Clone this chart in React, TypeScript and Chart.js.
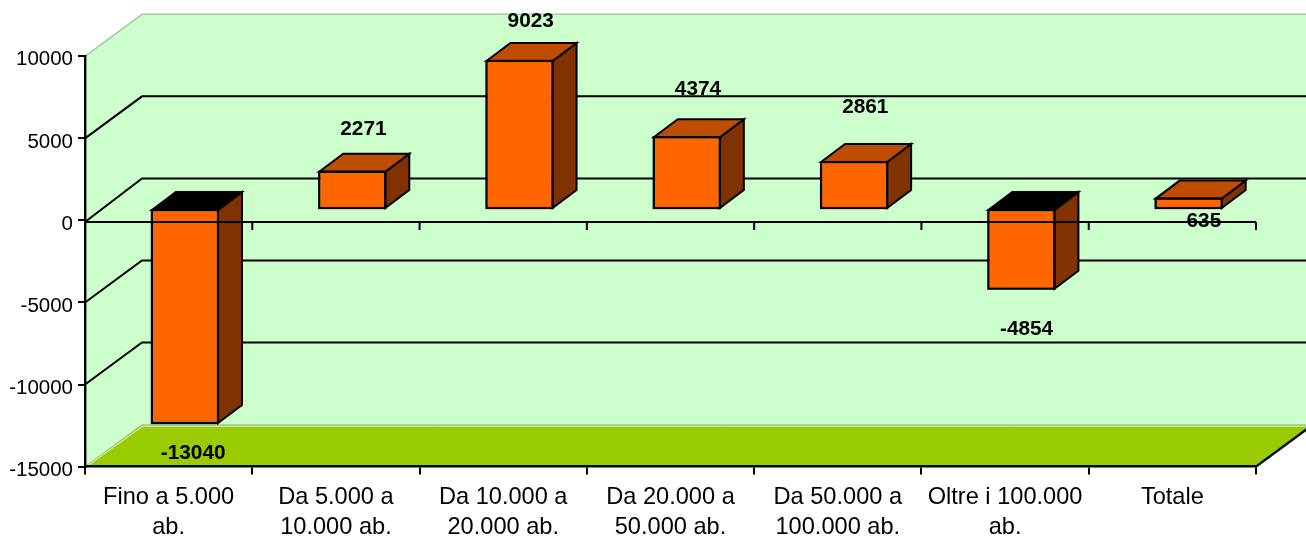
import React, { useEffect, useRef } from "react";
import { Chart, registerables } from "chart.js";

Chart.register(...registerables);

const categories = [
  ["Fino a 5.000", "ab."],
  ["Da 5.000 a", "10.000 ab."],
  ["Da 10.000 a", "20.000 ab."],
  ["Da 20.000 a", "50.000 ab."],
  ["Da 50.000 a", "100.000 ab."],
  ["Oltre i 100.000", "ab."],
  ["Totale"],
];
const saldo = [-13040, 2271, 9023, 4374, 2861, -4854, 635];
const yMin = -15000;
const yMax = 10000;
const yStep = 5000;

// label placement relative to each bar's front face (px)
const labelNudgeX = [8, 11, 11, 11, 11, 5, 15];
const labelNudgeY = [29, -43, -41, -49, -56, 40, 22];

const FONT = '"Liberation Sans", Arial, sans-serif';
const WALL = "#CCFFCC";
const FLOOR = "#99CC00";
const FRONT = "#FF6600";
const SIDE = "#803300";
const TOP = "#BF4D00";
const EDGE = "#9DD09D";

// 3D projection offsets
const WALL_DX = 57;
const WALL_DY = -42;
const BAR_DX = 16.3;
const BAR_DY = -11.4;
const BAR_DEPTH_X = 24;
const BAR_DEPTH_Y = -18;
const ZERO_SHIFT = 1.5;
const Y_LABEL_SHIFT = 3.5;
const LINE = 2;

function poly(ctx: CanvasRenderingContext2D, pts: number[][], fill?: string, stroke?: string, lw = LINE) {
  ctx.beginPath();
  pts.forEach((p, i) => (i ? ctx.lineTo(p[0], p[1]) : ctx.moveTo(p[0], p[1])));
  if (fill) {
    ctx.closePath();
    ctx.fillStyle = fill;
    ctx.fill();
  }
  if (stroke) {
    ctx.strokeStyle = stroke;
    ctx.lineWidth = lw;
    ctx.lineJoin = "miter";
    ctx.stroke();
  }
}

const box3d = {
  id: "box3d",
  afterLayout(chart: any) {
    const y = chart.scales.y;
    if (y.__shifted) return;
    y.__shifted = true;
    const orig = y.getLabelItems;
    y.getLabelItems = function (area: any) {
      return orig.call(y, area).map((item: any) => ({
        ...item,
        options: {
          ...item.options,
          translation: [item.options.translation[0], item.options.translation[1] + Y_LABEL_SHIFT],
        },
      }));
    };
  },
  beforeDraw(chart: any) {
    const { ctx, chartArea: a, scales } = chart;
    const y = scales.y;
    const L = a.left, R = a.right, T = a.top, B = a.bottom;
    const bx = L + WALL_DX, rx = R + WALL_DX;
    ctx.save();
    poly(ctx, [[L, B], [L, T], [bx, T + WALL_DY], [rx, T + WALL_DY], [rx, B + WALL_DY], [bx, B + WALL_DY]], WALL);
    poly(ctx, [[L, B], [bx, B + WALL_DY], [rx, B + WALL_DY], [R, B]], FLOOR);
    // pale edges of the walls
    poly(ctx, [[L, T], [bx, T + WALL_DY], [rx, T + WALL_DY]], undefined, EDGE, 1.5);
    poly(ctx, [[L, B], [bx, B + WALL_DY], [rx, B + WALL_DY]], undefined, EDGE, 1);
    poly(ctx, [[L + 1.5, B], [bx + 1, B + WALL_DY + 1.5], [rx, B + WALL_DY + 1.5]], undefined, "#E4F5D8", 1);
    // gridlines on side and back wall
    for (let v = yMin + yStep; v < yMax; v += yStep) {
      const shift = v === 0 ? ZERO_SHIFT : 0;
      const py = y.getPixelForValue(v);
      poly(ctx, [[L, py + shift], [bx, py + WALL_DY], [rx, py + WALL_DY]], undefined, "#000", LINE);
    }
    // right floor edge
    poly(ctx, [[R, B], [rx, B + WALL_DY]], undefined, "#000", LINE + 0.4);
    ctx.restore();
  },
  beforeDatasetDraw(chart: any) {
    const { ctx } = chart;
    const bars = chart.getDatasetMeta(0).data;
    ctx.save();
    ctx.translate(BAR_DX, BAR_DY);
    bars.forEach((b: any, i: number) => {
      const hw = b.width / 2;
      const x0 = b.x - hw, x1 = b.x + hw;
      const top = Math.min(b.y, b.base), bot = Math.max(b.y, b.base);
      const dx = BAR_DEPTH_X, dy = BAR_DEPTH_Y;
      poly(ctx, [[x1, top], [x1 + dx, top + dy], [x1 + dx, bot + dy], [x1, bot]], SIDE, "#000", LINE);
      poly(ctx, [[x0, top], [x0 + dx, top + dy], [x1 + dx, top + dy], [x1, top]], saldo[i] < 0 ? "#000" : TOP, "#000", LINE);
    });
  },
  afterDatasetDraw(chart: any) {
    const { ctx } = chart;
    chart.getDatasetMeta(0).data.forEach((b: any) => {
      const hw = b.width / 2;
      const top = Math.min(b.y, b.base), bot = Math.max(b.y, b.base);
      ctx.strokeStyle = "#000";
      ctx.lineWidth = LINE + 0.2;
      ctx.strokeRect(b.x - hw, top, b.width, bot - top);
    });
    ctx.restore();
  },
  afterDatasetsDraw(chart: any) {
    const { ctx, chartArea: a, scales } = chart;
    const zero = scales.y.getPixelForValue(0) + ZERO_SHIFT;
    ctx.save();
    poly(ctx, [[a.left, zero], [a.right, zero]], undefined, "#000", LINE);
    scales.x.ticks.forEach((_: any, i: number) => {
      const px = scales.x.getPixelForTick(i) + scales.x.width / categories.length / 2;
      poly(ctx, [[px, zero], [px, zero + 8]], undefined, "#000", LINE);
    });
    ctx.fillStyle = "#000";
    ctx.font = `bold 20.8px ${FONT}`;
    ctx.textAlign = "center";
    ctx.textBaseline = "middle";
    chart.getDatasetMeta(0).data.forEach((b: any, i: number) => {
      ctx.fillText(String(saldo[i]), b.x + 16.5 + labelNudgeX[i], b.y + BAR_DY + labelNudgeY[i] + 1);
    });
    ctx.restore();
  },
};

export default function App() {
  const ref = useRef<HTMLCanvasElement>(null);
  useEffect(() => {
    document.body.style.margin = "0";
    const chart = new Chart(ref.current!, {
      type: "bar",
      data: {
        labels: categories as any,
        datasets: [
          {
            data: saldo,
            backgroundColor: FRONT,
            borderColor: "#000",
            borderWidth: 1,
            borderSkipped: false,
            barPercentage: 0.395,
            categoryPercentage: 1,
          },
        ],
      },
      options: {
        responsive: false,
        animation: false,
        layout: { padding: { top: 56.3, right: 50, left: 0, bottom: 0 } },
        plugins: { legend: { display: false }, tooltip: { enabled: false } },
        scales: {
          x: {
            afterFit: (s: any) => { s.height = 71.4; },
            grid: { drawOnChartArea: false, drawTicks: true, tickLength: 8, color: "#000", lineWidth: LINE },
            border: { color: "#000", width: 2.6 },
            ticks: {
              color: "#000",
              padding: 8,
              maxRotation: 0,
              autoSkip: false,
              font: { family: FONT, size: 23.6, lineHeight: 1.27 },
            },
          },
          y: {
            min: yMin,
            max: yMax,
            afterFit: (s: any) => { s.width = 85; },
            grid: { drawOnChartArea: false, drawTicks: true, tickLength: 7, color: "#000", lineWidth: LINE },
            border: { color: "#000", width: 2.4 },
            ticks: {
              stepSize: yStep,
              color: "#000",
              padding: 5,
              font: { family: FONT, size: 20.5 },
              callback: (v: any) => String(v),
            },
          },
        },
      },
      plugins: [box3d],
    } as any);
    return () => chart.destroy();
  }, []);
  return <canvas ref={ref} width={1306} height={538} style={{ display: "block" }} />;
}
